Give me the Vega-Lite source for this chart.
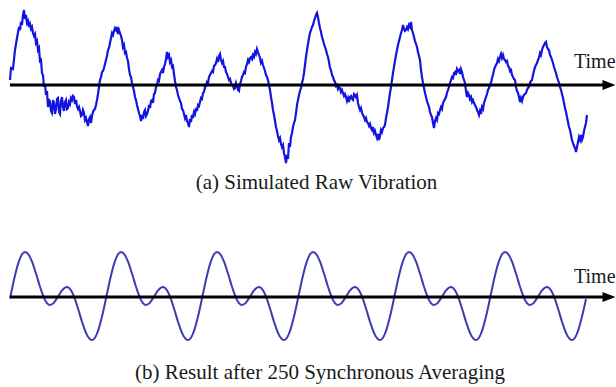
{
  "$schema": "https://vega.github.io/schema/vega-lite/v6.json",
  "width": 616,
  "height": 387,
  "padding": 0,
  "autosize": {"type": "none"},
  "background": "white",
  "config": {
    "view": {"stroke": null},
    "text": {"font": "Liberation Serif", "fontSize": 21, "color": "#1a1a1a", "baseline": "alphabetic"}
  },
  "datasets": {
    "raw": [
      {"t":10,"v":5},{"t":11,"v":17},{"t":13,"v":16},{"t":15,"v":35},{"t":17,"v":47},{"t":19,"v":58},{"t":20,"v":55},{"t":21,"v":63},{"t":22,"v":60},{"t":23,"v":70},
      {"t":24,"v":75},{"t":25,"v":66},{"t":26,"v":70},{"t":27,"v":62},{"t":28,"v":64},{"t":29,"v":58},{"t":30,"v":61},{"t":31,"v":56},{"t":32,"v":58},{"t":33,"v":52},
      {"t":34,"v":49},{"t":35,"v":51},{"t":36,"v":42},{"t":37,"v":44},{"t":38,"v":35},{"t":39,"v":37},{"t":40,"v":24},{"t":41,"v":25},{"t":42,"v":12},{"t":43,"v":10},
      {"t":44,"v":-2},{"t":45,"v":1},{"t":46,"v":-10},{"t":47,"v":-6},{"t":48,"v":-22},{"t":49,"v":-14},{"t":50,"v":-17},{"t":51,"v":-26},{"t":52,"v":-28},{"t":53,"v":-15},
      {"t":54,"v":-18},{"t":55,"v":-29},{"t":56,"v":-24},{"t":57,"v":-14},{"t":58,"v":-13},{"t":59,"v":-27},{"t":60,"v":-29},{"t":61,"v":-16},{"t":62,"v":-12},{"t":63,"v":-22},
      {"t":64,"v":-26},{"t":65,"v":-17},{"t":66,"v":-15},{"t":67,"v":-24},{"t":68,"v":-23},{"t":69,"v":-17},{"t":70,"v":-19},{"t":71,"v":-13},{"t":72,"v":-15},{"t":73,"v":-11},
      {"t":74,"v":-12},{"t":75,"v":-19},{"t":76,"v":-15},{"t":77,"v":-21},{"t":78,"v":-24},{"t":79,"v":-22},{"t":80,"v":-26},{"t":81,"v":-31},{"t":82,"v":-30},{"t":83,"v":-25},
      {"t":84,"v":-28},{"t":85,"v":-35},{"t":86,"v":-33},{"t":87,"v":-37},{"t":88,"v":-41},{"t":89,"v":-34},{"t":90,"v":-32},{"t":91,"v":-38},{"t":92,"v":-31},{"t":93,"v":-27},
      {"t":94,"v":-25},{"t":95,"v":-24},{"t":96,"v":-20},{"t":97,"v":-15},{"t":98,"v":-9},{"t":99,"v":-2},{"t":100,"v":5},{"t":101,"v":8},{"t":102,"v":13},{"t":103,"v":14},
      {"t":104,"v":17},{"t":105,"v":21},{"t":106,"v":25},{"t":107,"v":29},{"t":108,"v":35},{"t":109,"v":37},{"t":110,"v":42},{"t":111,"v":47},{"t":112,"v":52},{"t":113,"v":50},
      {"t":114,"v":54},{"t":115,"v":57},{"t":116,"v":55},{"t":117,"v":58},{"t":118,"v":51},{"t":119,"v":55},{"t":120,"v":52},{"t":121,"v":49},{"t":122,"v":45},{"t":123,"v":38},
      {"t":124,"v":40},{"t":125,"v":32},{"t":126,"v":33},{"t":127,"v":27},{"t":128,"v":24},{"t":129,"v":16},{"t":130,"v":10},{"t":131,"v":8},{"t":132,"v":2},{"t":133,"v":-2},
      {"t":134,"v":-6},{"t":135,"v":-12},{"t":136,"v":-15},{"t":137,"v":-20},{"t":138,"v":-24},{"t":139,"v":-28},{"t":140,"v":-31},{"t":141,"v":-36},{"t":142,"v":-30},{"t":143,"v":-34},
      {"t":144,"v":-27},{"t":145,"v":-25},{"t":146,"v":-31},{"t":147,"v":-29},{"t":148,"v":-26},{"t":149,"v":-20},{"t":150,"v":-23},{"t":151,"v":-16},{"t":152,"v":-15},{"t":153,"v":-18},
      {"t":154,"v":-9},{"t":155,"v":-8},{"t":156,"v":-2},{"t":157,"v":0},{"t":158,"v":5},{"t":159,"v":4},{"t":160,"v":11},{"t":161,"v":13},{"t":162,"v":15},{"t":163,"v":12},
      {"t":164,"v":18},{"t":165,"v":21},{"t":166,"v":26},{"t":167,"v":33},{"t":168,"v":28},{"t":169,"v":30},{"t":170,"v":23},{"t":171,"v":25},{"t":172,"v":18},{"t":173,"v":19},
      {"t":174,"v":11},{"t":175,"v":4},{"t":176,"v":-2},{"t":177,"v":-5},{"t":178,"v":-10},{"t":179,"v":-13},{"t":180,"v":-16},{"t":181,"v":-18},{"t":182,"v":-24},{"t":183,"v":-25},
      {"t":184,"v":-29},{"t":185,"v":-33},{"t":186,"v":-30},{"t":187,"v":-36},{"t":188,"v":-38},{"t":189,"v":-42},{"t":190,"v":-34},{"t":191,"v":-37},{"t":192,"v":-30},{"t":193,"v":-33},
      {"t":194,"v":-27},{"t":195,"v":-29},{"t":196,"v":-23},{"t":197,"v":-26},{"t":198,"v":-20},{"t":199,"v":-21},{"t":200,"v":-17},{"t":201,"v":-13},{"t":202,"v":-14},{"t":203,"v":-8},
      {"t":204,"v":-7},{"t":205,"v":-2},{"t":206,"v":-1},{"t":207,"v":3},{"t":208,"v":2},{"t":209,"v":8},{"t":210,"v":10},{"t":211,"v":12},{"t":212,"v":14},{"t":213,"v":13},
      {"t":214,"v":19},{"t":215,"v":20},{"t":216,"v":22},{"t":217,"v":26},{"t":218,"v":23},{"t":219,"v":29},{"t":220,"v":31},{"t":221,"v":25},{"t":222,"v":22},{"t":223,"v":24},
      {"t":224,"v":18},{"t":225,"v":18},{"t":226,"v":13},{"t":227,"v":11},{"t":228,"v":8},{"t":229,"v":5},{"t":230,"v":6},{"t":231,"v":2},{"t":232,"v":0},{"t":233,"v":-1},
      {"t":234,"v":-4},{"t":235,"v":-3},{"t":236,"v":2},{"t":237,"v":-1},{"t":238,"v":-5},{"t":239,"v":-6},{"t":240,"v":1},{"t":241,"v":4},{"t":242,"v":8},{"t":243,"v":10},
      {"t":244,"v":13},{"t":245,"v":12},{"t":246,"v":18},{"t":247,"v":21},{"t":248,"v":25},{"t":249,"v":23},{"t":250,"v":27},{"t":251,"v":28},{"t":252,"v":26},{"t":253,"v":30},
      {"t":254,"v":28},{"t":255,"v":33},{"t":256,"v":31},{"t":257,"v":36},{"t":258,"v":33},{"t":259,"v":30},{"t":260,"v":27},{"t":261,"v":22},{"t":262,"v":24},{"t":263,"v":20},
      {"t":264,"v":17},{"t":265,"v":14},{"t":266,"v":10},{"t":267,"v":8},{"t":268,"v":5},{"t":269,"v":0},{"t":270,"v":-5},{"t":271,"v":-12},{"t":272,"v":-18},{"t":273,"v":-25},
      {"t":274,"v":-30},{"t":275,"v":-36},{"t":276,"v":-42},{"t":277,"v":-46},{"t":278,"v":-51},{"t":279,"v":-55},{"t":280,"v":-53},{"t":281,"v":-59},{"t":282,"v":-62},{"t":283,"v":-60},
      {"t":284,"v":-68},{"t":285,"v":-72},{"t":286,"v":-78},{"t":287,"v":-70},{"t":288,"v":-74},{"t":289,"v":-58},{"t":290,"v":-62},{"t":291,"v":-52},{"t":292,"v":-48},{"t":293,"v":-42},
      {"t":294,"v":-38},{"t":295,"v":-35},{"t":296,"v":-28},{"t":297,"v":-20},{"t":298,"v":-15},{"t":299,"v":-10},{"t":300,"v":-6},{"t":301,"v":-3},{"t":302,"v":2},{"t":303,"v":6},
      {"t":304,"v":12},{"t":305,"v":20},{"t":306,"v":28},{"t":307,"v":35},{"t":308,"v":41},{"t":309,"v":47},{"t":310,"v":52},{"t":311,"v":55},{"t":312,"v":58},{"t":313,"v":60},
      {"t":314,"v":64},{"t":315,"v":67},{"t":316,"v":70},{"t":317,"v":72},{"t":318,"v":68},{"t":319,"v":62},{"t":320,"v":57},{"t":321,"v":53},{"t":322,"v":48},{"t":323,"v":45},
      {"t":324,"v":41},{"t":325,"v":38},{"t":326,"v":35},{"t":327,"v":31},{"t":328,"v":28},{"t":329,"v":23},{"t":330,"v":17},{"t":331,"v":15},{"t":332,"v":10},{"t":333,"v":8},
      {"t":334,"v":5},{"t":335,"v":3},{"t":336,"v":-1},{"t":337,"v":0},{"t":338,"v":-4},{"t":339,"v":-2},{"t":340,"v":-3},{"t":341,"v":-7},{"t":342,"v":-5},{"t":343,"v":-8},
      {"t":344,"v":-11},{"t":345,"v":-9},{"t":346,"v":-12},{"t":347,"v":-16},{"t":348,"v":-13},{"t":349,"v":-17},{"t":350,"v":-12},{"t":351,"v":-11},{"t":352,"v":-14},{"t":353,"v":-15},
      {"t":354,"v":-9},{"t":355,"v":-10},{"t":356,"v":-12},{"t":357,"v":-10},{"t":358,"v":-18},{"t":359,"v":-22},{"t":360,"v":-25},{"t":361,"v":-23},{"t":362,"v":-28},{"t":363,"v":-30},
      {"t":364,"v":-32},{"t":365,"v":-35},{"t":366,"v":-33},{"t":367,"v":-37},{"t":368,"v":-38},{"t":369,"v":-41},{"t":370,"v":-39},{"t":371,"v":-43},{"t":372,"v":-45},{"t":373,"v":-42},
      {"t":374,"v":-48},{"t":375,"v":-46},{"t":376,"v":-50},{"t":377,"v":-53},{"t":378,"v":-49},{"t":379,"v":-55},{"t":380,"v":-51},{"t":381,"v":-45},{"t":382,"v":-47},{"t":383,"v":-43},
      {"t":384,"v":-42},{"t":385,"v":-40},{"t":386,"v":-33},{"t":387,"v":-28},{"t":388,"v":-22},{"t":389,"v":-15},{"t":390,"v":-8},{"t":391,"v":-2},{"t":392,"v":5},{"t":393,"v":12},
      {"t":394,"v":18},{"t":395,"v":24},{"t":396,"v":30},{"t":397,"v":35},{"t":398,"v":40},{"t":399,"v":44},{"t":400,"v":48},{"t":401,"v":52},{"t":402,"v":55},{"t":403,"v":60},
      {"t":404,"v":56},{"t":405,"v":54},{"t":406,"v":55},{"t":407,"v":58},{"t":408,"v":56},{"t":409,"v":60},{"t":410,"v":58},{"t":411,"v":63},{"t":412,"v":55},{"t":413,"v":52},
      {"t":414,"v":48},{"t":415,"v":44},{"t":416,"v":41},{"t":417,"v":38},{"t":418,"v":33},{"t":419,"v":29},{"t":420,"v":25},{"t":421,"v":15},{"t":422,"v":8},{"t":423,"v":2},
      {"t":424,"v":-3},{"t":425,"v":-8},{"t":426,"v":-12},{"t":427,"v":-16},{"t":428,"v":-19},{"t":429,"v":-22},{"t":430,"v":-27},{"t":431,"v":-30},{"t":432,"v":-32},{"t":433,"v":-38},
      {"t":434,"v":-43},{"t":435,"v":-36},{"t":436,"v":-33},{"t":437,"v":-35},{"t":438,"v":-28},{"t":439,"v":-29},{"t":440,"v":-25},{"t":441,"v":-22},{"t":442,"v":-24},{"t":443,"v":-18},
      {"t":444,"v":-16},{"t":445,"v":-14},{"t":446,"v":-12},{"t":447,"v":-8},{"t":448,"v":-5},{"t":449,"v":-2},{"t":450,"v":2},{"t":451,"v":5},{"t":452,"v":8},{"t":453,"v":7},
      {"t":454,"v":12},{"t":455,"v":13},{"t":456,"v":10},{"t":457,"v":16},{"t":458,"v":14},{"t":459,"v":15},{"t":460,"v":11},{"t":461,"v":16},{"t":462,"v":13},{"t":463,"v":8},
      {"t":464,"v":5},{"t":465,"v":2},{"t":466,"v":-6},{"t":467,"v":-12},{"t":468,"v":-8},{"t":469,"v":-10},{"t":470,"v":-14},{"t":471,"v":-12},{"t":472,"v":-17},{"t":473,"v":-15},
      {"t":474,"v":-18},{"t":475,"v":-20},{"t":476,"v":-22},{"t":477,"v":-25},{"t":478,"v":-27},{"t":479,"v":-30},{"t":480,"v":-26},{"t":481,"v":-29},{"t":482,"v":-22},{"t":483,"v":-24},
      {"t":484,"v":-18},{"t":485,"v":-15},{"t":486,"v":-12},{"t":487,"v":-9},{"t":488,"v":-5},{"t":489,"v":-3},{"t":490,"v":0},{"t":491,"v":2},{"t":492,"v":7},{"t":493,"v":10},
      {"t":494,"v":15},{"t":495,"v":18},{"t":496,"v":20},{"t":497,"v":22},{"t":498,"v":26},{"t":499,"v":24},{"t":500,"v":28},{"t":501,"v":31},{"t":502,"v":27},{"t":503,"v":30},
      {"t":504,"v":26},{"t":505,"v":25},{"t":506,"v":23},{"t":507,"v":24},{"t":508,"v":19},{"t":509,"v":18},{"t":510,"v":14},{"t":511,"v":15},{"t":512,"v":10},{"t":513,"v":8},
      {"t":514,"v":6},{"t":515,"v":5},{"t":516,"v":-2},{"t":517,"v":-6},{"t":518,"v":-8},{"t":519,"v":-12},{"t":520,"v":-17},{"t":521,"v":-13},{"t":522,"v":-16},{"t":523,"v":-12},
      {"t":524,"v":-10},{"t":525,"v":-9},{"t":526,"v":-8},{"t":527,"v":-5},{"t":528,"v":-3},{"t":529,"v":-2},{"t":530,"v":2},{"t":531,"v":4},{"t":532,"v":5},{"t":533,"v":10},
      {"t":534,"v":14},{"t":535,"v":18},{"t":536,"v":20},{"t":537,"v":22},{"t":538,"v":25},{"t":539,"v":27},{"t":540,"v":32},{"t":541,"v":30},{"t":542,"v":35},{"t":543,"v":38},
      {"t":544,"v":40},{"t":545,"v":42},{"t":546,"v":43},{"t":547,"v":38},{"t":548,"v":36},{"t":549,"v":35},{"t":550,"v":30},{"t":551,"v":28},{"t":552,"v":25},{"t":553,"v":22},
      {"t":554,"v":18},{"t":555,"v":15},{"t":556,"v":12},{"t":557,"v":8},{"t":558,"v":5},{"t":559,"v":2},{"t":560,"v":-2},{"t":561,"v":-5},{"t":562,"v":-9},{"t":563,"v":-13},
      {"t":564,"v":-18},{"t":565,"v":-23},{"t":566,"v":-27},{"t":567,"v":-32},{"t":568,"v":-37},{"t":569,"v":-42},{"t":570,"v":-45},{"t":571,"v":-50},{"t":572,"v":-55},{"t":573,"v":-58},
      {"t":574,"v":-61},{"t":575,"v":-63},{"t":576,"v":-67},{"t":577,"v":-62},{"t":578,"v":-57},{"t":579,"v":-52},{"t":580,"v":-55},{"t":581,"v":-50},{"t":582,"v":-55},{"t":583,"v":-52},
      {"t":584,"v":-46},{"t":585,"v":-42},{"t":586,"v":-38},{"t":587,"v":-30}
    ],
    "avg": [
      {"t":10,"v":-1.5},{"t":14,"v":17.3},{"t":18,"v":32.9},{"t":22,"v":42.7},{"t":25,"v":45},{"t":28,"v":43.1},{"t":32,"v":35.4},{"t":36,"v":23.5},{"t":40,"v":10.3},{"t":44,"v":-0.8},{"t":47,"v":-6.1},{"t":50,"v":-8},{"t":54,"v":-5.6},{"t":58,"v":0.4},{"t":62,"v":6.7},{"t":67,"v":10},{"t":70,"v":8.1},{"t":74,"v":0.4},{"t":78,"v":-11.5},{"t":82,"v":-24.7},{"t":86,"v":-35.8},{"t":89,"v":-41.1},{"t":92,"v":-43},{"t":95,"v":-40.7},{"t":98,"v":-34},{"t":102,"v":-19.6},
      {"t":106,"v":-1.5},{"t":110,"v":17.3},{"t":114,"v":32.9},{"t":118,"v":42.7},{"t":121,"v":45},{"t":124,"v":43.1},{"t":128,"v":35.4},{"t":132,"v":23.5},{"t":136,"v":10.3},{"t":140,"v":-0.8},{"t":143,"v":-6.1},{"t":146,"v":-8},{"t":150,"v":-5.6},{"t":154,"v":0.4},{"t":158,"v":6.7},{"t":163,"v":10},{"t":166,"v":8.1},{"t":170,"v":0.4},{"t":174,"v":-11.5},{"t":178,"v":-24.7},{"t":182,"v":-35.8},{"t":185,"v":-41.1},{"t":188,"v":-43},{"t":191,"v":-40.7},{"t":194,"v":-34},{"t":198,"v":-19.6},
      {"t":202,"v":-1.5},{"t":206,"v":17.3},{"t":210,"v":32.9},{"t":214,"v":42.7},{"t":217,"v":45},{"t":220,"v":43.1},{"t":224,"v":35.4},{"t":228,"v":23.5},{"t":232,"v":10.3},{"t":236,"v":-0.8},{"t":239,"v":-6.1},{"t":242,"v":-8},{"t":246,"v":-5.6},{"t":250,"v":0.4},{"t":254,"v":6.7},{"t":259,"v":10},{"t":262,"v":8.1},{"t":266,"v":0.4},{"t":270,"v":-11.5},{"t":274,"v":-24.7},{"t":278,"v":-35.8},{"t":281,"v":-41.1},{"t":284,"v":-43},{"t":287,"v":-40.7},{"t":290,"v":-34},{"t":294,"v":-19.6},
      {"t":298,"v":-1.5},{"t":302,"v":17.3},{"t":306,"v":32.9},{"t":310,"v":42.7},{"t":313,"v":45},{"t":316,"v":43.1},{"t":320,"v":35.4},{"t":324,"v":23.5},{"t":328,"v":10.3},{"t":332,"v":-0.8},{"t":335,"v":-6.1},{"t":338,"v":-8},{"t":342,"v":-5.6},{"t":346,"v":0.4},{"t":350,"v":6.7},{"t":355,"v":10},{"t":358,"v":8.1},{"t":362,"v":0.4},{"t":366,"v":-11.5},{"t":370,"v":-24.7},{"t":374,"v":-35.8},{"t":377,"v":-41.1},{"t":380,"v":-43},{"t":383,"v":-40.7},{"t":386,"v":-34},{"t":390,"v":-19.6},
      {"t":394,"v":-1.5},{"t":398,"v":17.3},{"t":402,"v":32.9},{"t":406,"v":42.7},{"t":409,"v":45},{"t":412,"v":43.1},{"t":416,"v":35.4},{"t":420,"v":23.5},{"t":424,"v":10.3},{"t":428,"v":-0.8},{"t":431,"v":-6.1},{"t":434,"v":-8},{"t":438,"v":-5.6},{"t":442,"v":0.4},{"t":446,"v":6.7},{"t":451,"v":10},{"t":454,"v":8.1},{"t":458,"v":0.4},{"t":462,"v":-11.5},{"t":466,"v":-24.7},{"t":470,"v":-35.8},{"t":473,"v":-41.1},{"t":476,"v":-43},{"t":479,"v":-40.7},{"t":482,"v":-34},{"t":486,"v":-19.6},
      {"t":490,"v":-1.5},{"t":494,"v":17.3},{"t":498,"v":32.9},{"t":502,"v":42.7},{"t":505,"v":45},{"t":508,"v":43.1},{"t":512,"v":35.4},{"t":516,"v":23.5},{"t":520,"v":10.3},{"t":524,"v":-0.8},{"t":527,"v":-6.1},{"t":530,"v":-8},{"t":534,"v":-5.6},{"t":538,"v":0.4},{"t":542,"v":6.7},{"t":547,"v":10},{"t":550,"v":8.1},{"t":554,"v":0.4},{"t":558,"v":-11.5},{"t":562,"v":-24.7},{"t":566,"v":-35.8},{"t":569,"v":-41.1},{"t":572,"v":-43},{"t":575,"v":-40.7},{"t":578,"v":-34},{"t":582,"v":-19.6},
      {"t":586,"v":-2}
    ]
  },
  "layer": [
    {
      "layer": [
        {
          "data": {"name": "raw"},
          "mark": {"type": "line", "color": "#1414e0", "strokeWidth": 2.2, "interpolate": "linear"},
          "encoding": {
            "x": {"field": "t", "type": "quantitative", "scale": {"domain": [0, 616], "nice": false, "zero": false}, "axis": null},
            "y": {"field": "v", "type": "quantitative", "scale": {"domain": [-302, 85], "nice": false, "zero": false}, "axis": null}
          }
        },
        {
          "data": {"values": [{}]},
          "mark": {"type": "rule", "color": "black", "strokeWidth": 3},
          "encoding": {"x": {"datum": 10}, "x2": {"datum": 604}, "y": {"datum": 0}}
        },
        {
          "data": {"values": [{}]},
          "mark": {"type": "point", "shape": "M1,0L-1,-0.77L-1,0.77Z", "filled": true, "color": "black", "opacity": 1, "size": 169},
          "encoding": {"x": {"datum": 609}, "y": {"datum": 0}}
        },
        {
          "data": {"values": [{}]},
          "mark": {"type": "text", "align": "left", "fontSize": 20},
          "encoding": {"x": {"datum": 574}, "y": {"datum": 17}, "text": {"value": "Time"}}
        },
        {
          "data": {"values": [{}]},
          "mark": {"type": "text", "align": "center"},
          "encoding": {"x": {"datum": 316.5}, "y": {"datum": -104}, "text": {"value": "(a) Simulated Raw Vibration"}}
        }
      ]
    },
    {
      "layer": [
        {
          "data": {"name": "avg"},
          "mark": {"type": "line", "color": "#3c3cb4", "strokeWidth": 2, "interpolate": "monotone"},
          "encoding": {
            "x": {"field": "t", "type": "quantitative", "scale": {"domain": [0, 616], "nice": false, "zero": false}, "axis": null},
            "y": {"field": "v", "type": "quantitative", "scale": {"domain": [-90, 297], "nice": false, "zero": false}, "axis": null}
          }
        },
        {
          "data": {"values": [{}]},
          "mark": {"type": "rule", "color": "black", "strokeWidth": 3},
          "encoding": {"x": {"datum": 10}, "x2": {"datum": 604}, "y": {"datum": 0}}
        },
        {
          "data": {"values": [{}]},
          "mark": {"type": "point", "shape": "M1,0L-1,-0.77L-1,0.77Z", "filled": true, "color": "black", "opacity": 1, "size": 169},
          "encoding": {"x": {"datum": 609}, "y": {"datum": 0}}
        },
        {
          "data": {"values": [{}]},
          "mark": {"type": "text", "align": "left", "fontSize": 20},
          "encoding": {"x": {"datum": 574}, "y": {"datum": 14}, "text": {"value": "Time"}}
        },
        {
          "data": {"values": [{}]},
          "mark": {"type": "text", "align": "center"},
          "encoding": {"x": {"datum": 320}, "y": {"datum": -82}, "text": {"value": "(b) Result after 250 Synchronous Averaging"}}
        }
      ]
    }
  ],
  "resolve": {"scale": {"y": "independent"}}
}
